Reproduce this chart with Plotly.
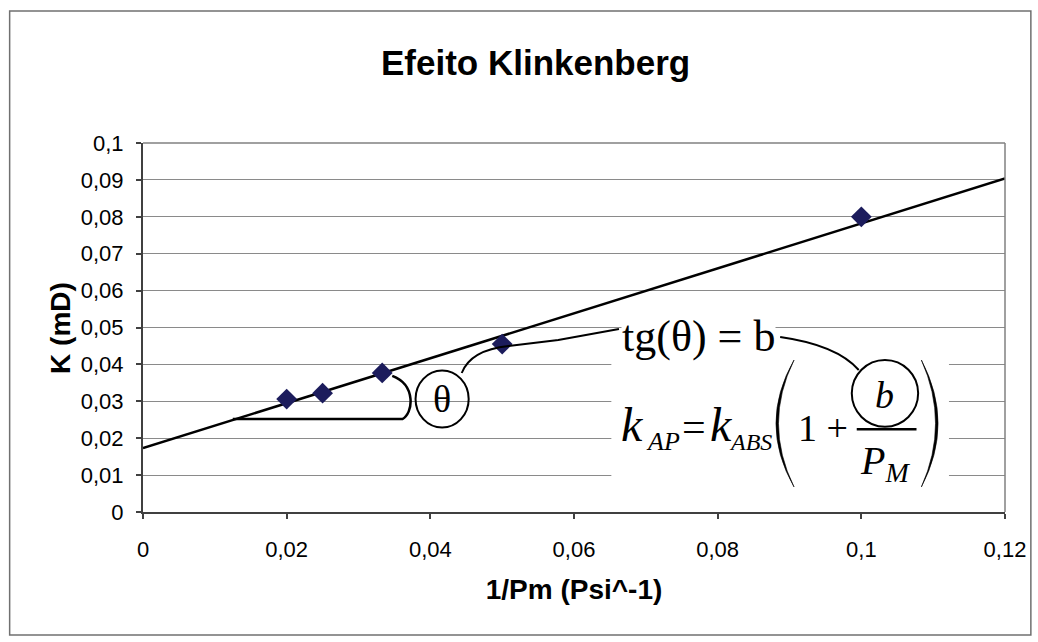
import plotly.graph_objects as go

# ---- data ----
inv_pm = [0.02, 0.025, 0.0333, 0.05, 0.1]          # 1/Pm (Psi^-1)
k_md = [0.0306, 0.0322, 0.0377, 0.0455, 0.080]      # K (mD)
trend_x = [0.0, 0.12]
trend_y = [0.0173, 0.0904]

x_ticks = [0, 0.02, 0.04, 0.06, 0.08, 0.1, 0.12]
x_tick_labels = ["0", "0,02", "0,04", "0,06", "0,08", "0,1", "0,12"]
y_ticks = [0, 0.01, 0.02, 0.03, 0.04, 0.05, 0.06, 0.07, 0.08, 0.09, 0.1]
y_tick_labels = ["0", "0,01", "0,02", "0,03", "0,04", "0,05", "0,06",
                 "0,07", "0,08", "0,09", "0,1"]

title_text = "Efeito Klinkenberg"
x_title = "1/Pm (Psi^-1)"
y_title = "K (mD)"

SANS = "Liberation Sans, Arial, sans-serif"
SERIF = "Liberation Serif, Times New Roman, serif"

fig = go.Figure()
fig.add_trace(go.Scatter(x=trend_x, y=trend_y, mode="lines",
                         line=dict(color="black", width=2.5),
                         hoverinfo="skip", showlegend=False))
fig.add_trace(go.Scatter(x=inv_pm, y=k_md, mode="markers",
                         marker=dict(symbol="diamond", size=16, color="#1c1c5c",
                                     line=dict(width=0)),
                         showlegend=False))

shapes = []
# outer chart frame
shapes.append(dict(type="rect", xref="paper", yref="paper",
                   x0=-0.1547, x1=1.030, y0=-0.333, y1=1.3577,
                   line=dict(color="#707070", width=1.5), layer="below"))
# plot area top / right border
shapes.append(dict(type="line", xref="paper", yref="paper", x0=0, x1=1, y0=1, y1=1,
                   line=dict(color="#808080", width=1.5)))
shapes.append(dict(type="line", xref="paper", yref="paper", x0=1, x1=1, y0=0, y1=1,
                   line=dict(color="#808080", width=1.5)))
# white mask behind the formula
shapes.append(dict(type="rect", xref="x", yref="y", x0=0.0652, x1=0.1122,
                   y0=0.0016, y1=0.0445, fillcolor="white",
                   line=dict(width=0), layer="above"))
# angle bracket from trend line
shapes.append(dict(type="path", xref="x", yref="y",
                   path="M 0.0125,0.0252 L 0.0361,0.0252 C 0.0376,0.0266 0.0381,0.0344 0.0347,0.0369",
                   line=dict(color="black", width=2.5), layer="above"))
# circle around theta
shapes.append(dict(type="circle", xref="x", yref="y", x0=0.03794, x1=0.04534,
                   y0=0.0229, y1=0.03835, line=dict(color="black", width=2), layer="above"))
# connector theta -> tg text
shapes.append(dict(type="path", xref="x", yref="y",
                   path="M 0.04437,0.03767 Q 0.04561,0.0439 0.05088,0.04499 L 0.05781,0.04661 L 0.06626,0.04959",
                   line=dict(color="black", width=2), layer="above"))
# connector b -> circle
shapes.append(dict(type="path", xref="x", yref="y",
                   path="M 0.0887,0.04743 Q 0.0966,0.04526 0.09964,0.03848",
                   line=dict(color="black", width=2), layer="above"))
# circle around b
shapes.append(dict(type="circle", xref="x", yref="y", x0=0.09867, x1=0.10791,
                   y0=0.02312, y1=0.04119, line=dict(color="black", width=2), layer="above"))
# fraction bar
shapes.append(dict(type="line", xref="x", yref="y", x0=0.09936, x1=0.10768,
                   y0=0.02241, y1=0.02241, line=dict(color="black", width=2.5), layer="above"))
# big parentheses
shapes.append(dict(type="path", xref="x", yref="y",
                   path="M 0.09063,0.04119 Q 0.08560,0.02398 0.09063,0.00678 Q 0.08630,0.02398 0.09063,0.04119 Z",
                   fillcolor="black", line=dict(color="black", width=0.6), layer="above"))
shapes.append(dict(type="path", xref="x", yref="y",
                   path="M 0.10836,0.04119 Q 0.11300,0.02398 0.10836,0.00678 Q 0.11230,0.02398 0.10836,0.04119 Z",
                   fillcolor="black", line=dict(color="black", width=0.6), layer="above"))


def serif(text, x, y, size, xanchor="left", italic=False, **kw):
    t = "<i>" + text + "</i>" if italic else text
    return dict(x=x, y=y, xref="x", yref="y", text=t, showarrow=False,
                xanchor=xanchor, yanchor="middle", borderpad=0,
                font=dict(family=SERIF, size=size, color="black"), **kw)


annotations = [
    serif("θ", 0.04164, 0.0306, 38, xanchor="center"),
    serif("tg(θ) = b", 0.06654, 0.04743, 44, bgcolor="white"),
    # k_AP = k_ABS (1 + b / P_M)
    serif("k", 0.06640, 0.02368, 48, italic=True),
    serif("AP", 0.06990, 0.01905, 26, italic=True),
    serif("=", 0.07484, 0.02314, 42),
    serif("k", 0.07886, 0.02368, 48, italic=True),
    serif("ABS", 0.08150, 0.01905, 24, italic=True),
    serif("1 +", 0.09105, 0.02276, 38),
    serif("b", 0.10324, 0.0317, 38, xanchor="center", italic=True),
    serif("<i>P</i><sub><i>M</i></sub>", 0.10324, 0.0133, 40, xanchor="center"),
    # y axis title
    dict(x=-0.0958, y=0.5, xref="paper", yref="paper", text="<b>" + y_title + "</b>",
         showarrow=False, textangle=-90, xanchor="center", yanchor="middle",
         font=dict(family=SANS, size=28, color="black")),
]

fig.update_layout(
    width=1038, height=642,
    margin=dict(l=143, r=29, t=143, b=130),
    paper_bgcolor="white", plot_bgcolor="white",
    title=dict(text="<b>" + title_text + "</b>", x=0.516, xref="container",
               xanchor="center", y=0.903, yref="container", yanchor="middle",
               font=dict(family=SANS, size=35, color="black")),
    shapes=shapes, annotations=annotations,
    showlegend=False,
)
fig.update_xaxes(range=[0, 0.12], tickvals=x_ticks, ticktext=x_tick_labels,
                 showgrid=False, zeroline=False, showline=True,
                 linecolor="#404040", linewidth=2, ticks="outside", ticklen=5,
                 tickcolor="#404040", tickwidth=1.5, ticklabelstandoff=12,
                 tickfont=dict(family=SANS, size=22, color="black"),
                 title=dict(text="<b>" + x_title + "</b>", standoff=18,
                            font=dict(family=SANS, size=28, color="black")))
fig.update_yaxes(range=[0, 0.1], tickvals=y_ticks, ticktext=y_tick_labels,
                 showgrid=True, gridcolor="#8a8a8a", gridwidth=1,
                 zeroline=False, showline=True,
                 linecolor="#404040", linewidth=2, ticks="outside", ticklen=5,
                 tickcolor="#404040", tickwidth=1.5, ticklabelstandoff=8,
                 tickfont=dict(family=SANS, size=22, color="black"))

fig.write_html("out.html")
